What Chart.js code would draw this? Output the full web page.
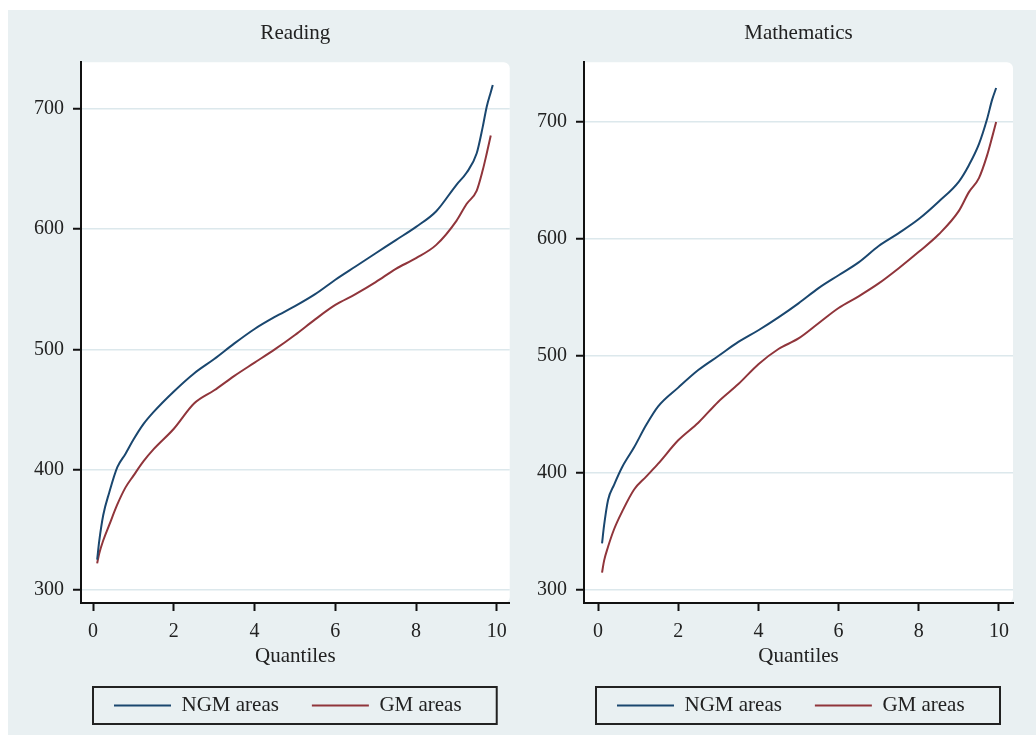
<!DOCTYPE html>
<html>
<head>
<meta charset="utf-8">
<script src="https://cdn.jsdelivr.net/npm/chart.js@4.4.0/dist/chart.umd.min.js"></script>
<style>
  html, body { margin: 0; padding: 0; background: #ffffff; }
  #fondo { position: absolute; left: 8px; top: 10px; width: 1028px; height: 725px; background: #e9f0f2; }
  #graficoLectura { position: absolute; left: 8px; top: 10px; }
  #graficoMates { position: absolute; left: 516px; top: 10px; }
</style>
</head>
<body>
<div id="fondo"></div>
<canvas id="graficoLectura" width="508" height="725"></canvas>
<canvas id="graficoMates" width="520" height="725"></canvas>
<script>
// valores
const cuantilesLecturaNGM = [0.1, 0.15, 0.25, 0.4, 0.6, 0.8, 1.0, 1.25, 1.5, 2.0, 2.5, 3.0, 3.5, 4.0, 4.5, 5.0, 5.5, 6.0, 6.5, 7.0, 7.5, 8.0, 8.5, 9.0, 9.25, 9.5, 9.65, 9.75, 9.85, 9.9];
const lecturaNGM = [325, 340, 362, 381, 402, 413, 425, 438, 448, 465, 480, 492, 505, 517, 527, 536, 546, 558, 569, 580, 591, 602, 615, 637, 647, 663, 685, 702, 714, 720];
const cuantilesLecturaGM = [0.1, 0.15, 0.25, 0.4, 0.6, 0.8, 1.0, 1.25, 1.5, 2.0, 2.5, 3.0, 3.5, 4.0, 4.5, 5.0, 5.5, 6.0, 6.5, 7.0, 7.5, 8.0, 8.5, 9.0, 9.25, 9.5, 9.65, 9.75, 9.85];
const lecturaGM = [322, 330, 341, 354, 371, 385, 395, 407, 417, 434, 455, 466, 478, 489, 500, 512, 525, 537, 546, 556, 567, 576, 587, 607, 621, 632, 649, 663, 678];

const cuantilesMates = [0.1, 0.15, 0.25, 0.4, 0.6, 0.9, 1.2, 1.5, 2.0, 2.5, 3.0, 3.5, 4.0, 4.5, 5.0, 5.5, 6.0, 6.5, 7.0, 7.5, 8.0, 8.5, 9.0, 9.25, 9.5, 9.7, 9.83, 9.93];
const matesNGM = [340, 355, 377, 390, 405, 422, 441, 457, 473, 488, 500, 512, 522, 533, 545, 558, 569, 580, 594, 605, 617, 632, 649, 663, 681, 702, 719, 729];
const matesGM = [315, 325, 337, 352, 367, 386, 397, 408, 428, 443, 461, 476, 493, 506, 515, 528, 541, 551, 562, 575, 589, 604, 624, 640, 652, 671, 687, 700];

const ticksX = [0, 2, 4, 6, 8, 10];
const ticksY = [300, 400, 500, 600, 700];
const nombresSeries = ["NGM areas", "GM areas"];

const colorNGM = "#1a476f";
const colorGM = "#90353b";
const fuente = "'Liberation Serif', 'Times New Roman', serif";

function puntos(xs, ys) {
  return xs.map((x, i) => ({ x: x, y: ys[i] }));
}

// fondo blanco del area de trazado y recuadro de la leyenda
const marcoPanel = {
  id: "marcoPanel",
  beforeDraw(chart) {
    const ctx = chart.ctx;
    const a = chart.chartArea;
    ctx.save();
    ctx.fillStyle = "#ffffff";
    ctx.beginPath();
    ctx.roundRect(a.left, a.top, a.right - a.left, a.bottom - a.top, [0, 6, 6, 0]);
    ctx.fill();
    ctx.restore();
  },
  afterDraw(chart) {
    const ctx = chart.ctx;
    const a = chart.chartArea;
    const caja = chart.legend.legendHitBoxes[0];
    if (!caja) return;
    const centro = caja.top + caja.height / 2;
    ctx.save();
    ctx.strokeStyle = "#222222";
    ctx.lineWidth = 2;
    ctx.strokeRect(a.left + 12, centro - 18.5, a.right - a.left - 25, 37);
    ctx.restore();
  }
};

function crearGrafico(idCanvas, titulo, cuantilesNGM, valoresNGM, cuantilesGM, valoresGM, rango) {
  const ctx = document.getElementById(idCanvas).getContext("2d");
  return new Chart(ctx, {
    type: "line",
    data: {
      datasets: [{
        label: nombresSeries[0],
        data: puntos(cuantilesNGM, valoresNGM),
        borderColor: colorNGM,
        backgroundColor: colorNGM,
        borderWidth: 2,
        pointRadius: 0,
        cubicInterpolationMode: "monotone"
      }, {
        label: nombresSeries[1],
        data: puntos(cuantilesGM, valoresGM),
        borderColor: colorGM,
        backgroundColor: colorGM,
        borderWidth: 2,
        pointRadius: 0,
        cubicInterpolationMode: "monotone"
      }]
    },
    options: {
      responsive: false,
      animation: false,
      layout: { padding: { left: 0, right: rango.der, top: 0, bottom: 9 } },
      plugins: {
        title: {
          display: true,
          fullSize: false,
          text: titulo,
          color: "#222222",
          font: { family: fuente, size: 21, weight: "normal" },
          padding: { top: 11, bottom: 16 }
        },
        legend: {
          position: "bottom",
          align: "start",
          fullSize: false,
          labels: {
            usePointStyle: true,
            pointStyle: "line",
            pointStyleWidth: 57,
            padding: 33,
            color: "#222222",
            font: { family: fuente, size: 21 }
          }
        },
        tooltip: { enabled: false }
      },
      scales: {
        x: {
          type: "linear",
          min: rango.xMin,
          max: rango.xMax,
          afterBuildTicks(escala) { escala.ticks = ticksX.map(v => ({ value: v })); },
          afterFit(escala) { escala.height = 59; },
          border: { display: true, color: "#111111", width: 2 },
          grid: { drawOnChartArea: false, drawTicks: true, tickLength: 8, tickColor: "#111111", tickWidth: 2 },
          ticks: { padding: 9, color: "#222222", font: { family: fuente, size: 20 } },
          title: {
            display: true,
            text: "Quantiles",
            color: "#222222",
            font: { family: fuente, size: 21 },
            padding: { top: 0, bottom: -7 }
          }
        },
        y: {
          min: rango.yMin,
          max: rango.yMax,
          afterBuildTicks(escala) { escala.ticks = ticksY.map(v => ({ value: v })); },
          afterFit(escala) { escala.width = rango.anchoY; },
          border: { display: true, color: "#111111", width: 2 },
          grid: { color: "#dce8ec", lineWidth: 1.5, tickLength: 8, tickColor: "#111111", tickWidth: 2 },
          ticks: { padding: 9, color: "#222222", font: { family: fuente, size: 20 } }
        }
      }
    },
    plugins: [marcoPanel]
  });
}

crearGrafico("graficoLectura", "Reading", cuantilesLecturaNGM, lecturaNGM, cuantilesLecturaGM, lecturaGM,
  { der: 6, anchoY: 73, xMin: -0.3, xMax: 10.32, yMin: 289, yMax: 739 });
crearGrafico("graficoMates", "Mathematics", cuantilesMates, matesNGM, cuantilesMates, matesGM,
  { der: 23, anchoY: 68, xMin: -0.35, xMax: 10.35, yMin: 289, yMax: 751 });
</script>
</body>
</html>
